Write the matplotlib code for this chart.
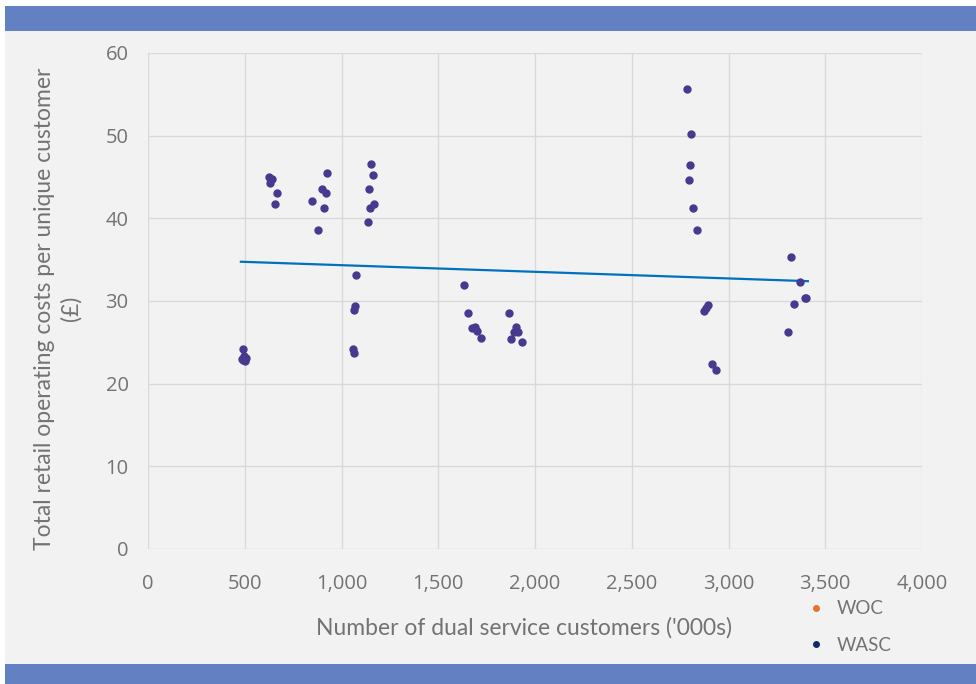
"""Scatter of retail operating costs against dual service customer numbers."""

import matplotlib

matplotlib.use("Agg")
import matplotlib.pyplot as plt
from matplotlib.lines import Line2D
from matplotlib.patches import Rectangle
from matplotlib.ticker import FuncFormatter

plt.rcParams["font.family"] = ["Lato", "DejaVu Sans"]

# WASC observations: dual service customers ('000s) and cost per customer (£)
wasc_x = [
    490, 485, 495, 500, 505, 492,
    625, 642, 630, 668, 658,
    923, 901, 918, 846, 908, 877,
    1152, 1163, 1142, 1147, 1168, 1137,
    1075, 1070, 1065, 1058, 1065,
    1632, 1653, 1674, 1692, 1699, 1719,
    1866, 1902, 1891, 1912, 1876, 1933,
    2785, 2806, 2801, 2796, 2816, 2837, 2894, 2884, 2873, 2913, 2934,
    3321, 3368, 3393, 3403, 3341, 3305,
]
wasc_y = [
    24.2, 23.0, 23.3, 22.8, 23.1, 22.9,
    45.0, 44.8, 44.3, 43.1, 41.7,
    45.5, 43.5, 43.1, 42.1, 41.3, 38.6,
    46.6, 45.2, 43.5, 41.3, 41.7, 39.5,
    33.1, 29.4, 28.9, 24.2, 23.7,
    31.9, 28.6, 26.7, 26.8, 26.4, 25.5,
    28.6, 26.8, 26.3, 26.2, 25.4, 25.0,
    55.6, 50.2, 46.4, 44.6, 41.2, 38.6, 29.5, 29.2, 28.8, 22.4, 21.7,
    35.3, 32.3, 30.4, 30.4, 29.6, 26.2,
]

# linear trend line end points
trend_x = [480, 3410]
trend_y = [34.75, 32.4]

x_ticks = list(range(0, 4001, 500))
y_ticks = list(range(0, 61, 10))

BG = "#f2f2f2"
BAR = "#6381c2"
TEXT = "#737373"

fig = plt.figure(figsize=(9.76, 6.84), dpi=100, facecolor="white")

# panel background and the two header/footer bands
fig.patches.append(Rectangle((5 / 976, 0), 1, 678 / 684, transform=fig.transFigure,
                             facecolor=BG, edgecolor="none", zorder=-3))
fig.patches.append(Rectangle((5 / 976, 653 / 684), 1, 25 / 684, transform=fig.transFigure,
                             facecolor=BAR, edgecolor="none", zorder=-2))
fig.patches.append(Rectangle((5 / 976, 0), 1, 20 / 684, transform=fig.transFigure,
                             facecolor=BAR, edgecolor="none", zorder=-2))

ax = fig.add_axes([148 / 976, 135 / 684, 774 / 976, 496 / 684])
ax.set_facecolor("none")

ax.plot(trend_x, trend_y, color="#0070c0", linewidth=1.6, zorder=3)
ax.plot(wasc_x, wasc_y, linestyle="none", marker="o", markersize=5,
        color="#463a8f", zorder=4)

ax.set_xlim(0, 4000)
ax.set_ylim(0, 60)
ax.set_xticks(x_ticks)
ax.set_yticks(y_ticks)
ax.xaxis.set_major_formatter(FuncFormatter(lambda v, _: f"{int(v):,}"))
ax.grid(True, color="#d9d9d9", linewidth=1)
ax.set_axisbelow(True)
for side in ax.spines.values():
    side.set_visible(False)
ax.tick_params(length=0, colors=TEXT)
ax.tick_params(axis="x", pad=18)
ax.tick_params(axis="y", pad=14)
for lbl in ax.get_xticklabels() + ax.get_yticklabels():
    lbl.set_family(["Open Sans", "DejaVu Sans"])
    lbl.set_fontsize(14.5)

ax.set_xlabel("Number of dual service customers ('000s)", fontsize=16.5,
              color=TEXT)
ax.xaxis.set_label_coords(0.486, -0.137)
ax.set_ylabel("Total retail operating costs per unique customer\n(£)",
              fontsize=16.5, color=TEXT, linespacing=1.3)
ax.yaxis.set_label_coords(-0.086, 0.485)

handles = [
    Line2D([], [], linestyle="none", marker="o", markersize=4, color="#e97132"),
    Line2D([], [], linestyle="none", marker="o", markersize=4, color="#0e2a6b"),
]
fig.legend(handles, ["WOC", "WASC"], loc="upper left",
           bbox_to_anchor=(0.809, 0.147), frameon=False, fontsize=13.5,
           labelcolor=TEXT, labelspacing=1.05, handletextpad=0.6,
           handlelength=1.0)

fig.savefig("out.png", dpi=100, facecolor=fig.get_facecolor())
